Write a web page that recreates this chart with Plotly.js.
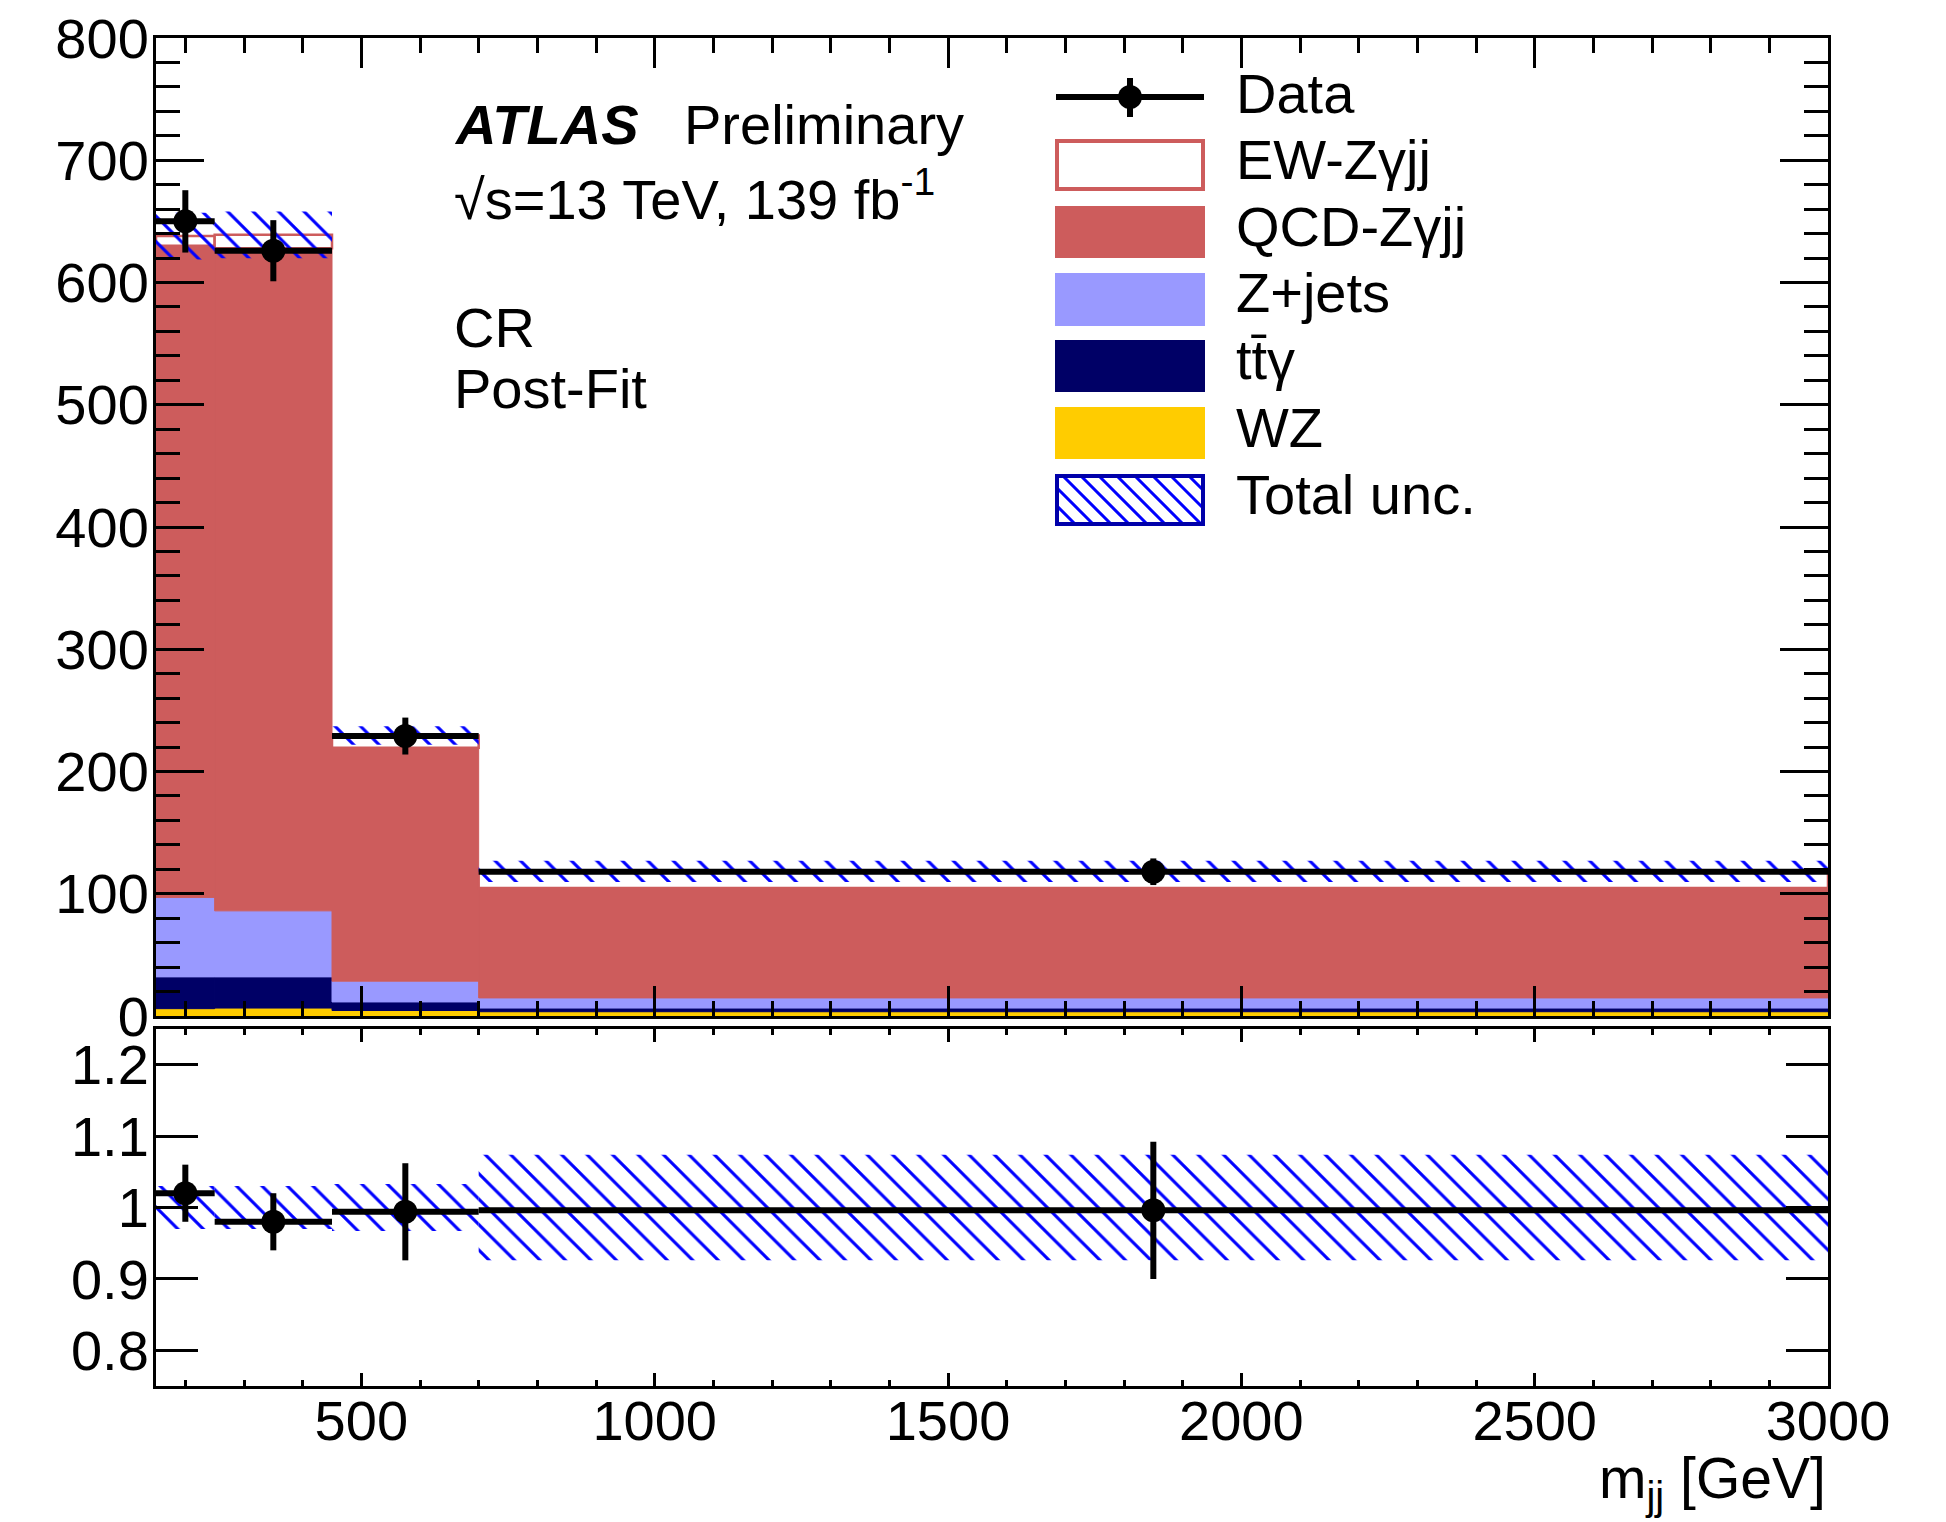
<!DOCTYPE html>
<html><head><meta charset="utf-8">
<script src="https://cdn.plot.ly/plotly-3.0.1.min.js"></script>
<style>html,body{margin:0;padding:0;background:#fff;} #chart{width:1946px;height:1522px;}</style>
</head><body><div id="chart"></div>
<script>
// ---- data ----
const binLo = [150, 250, 450, 700];
const binHi = [250, 450, 700, 3000];
const wzVals = [6, 6.5, 4.5, 3.5];
const ttgVals = [26, 25.5, 7, 3];
const zjetsVals = [65, 54, 17, 8.3];
const qcdVals = [533, 542, 191, 90];
const ewVals = [8, 11, 10, 13.5];
const dataVals = [650, 626, 229, 118];
const dataErr = [25.5, 25, 15.1, 10.9];
const relUnc = [0.03, 0.03, 0.033, 0.074];
const ratioVals = [1.02, 0.98, 0.994, 0.996];
const ratioErr = [0.04, 0.04, 0.068, 0.096];
const ratioTickVals = [0.8, 0.9, 1, 1.1, 1.2];
const ratioTickText = ['0.8', '0.9', '1', '1.1', '1.2'];
const legendLabels = ['Data', 'EW-Z\u03b3jj', 'QCD-Z\u03b3jj', 'Z+jets', 't\u0074\u0304\u03b3', 'WZ', 'Total unc.'];

// ---- derived ----
const centers = binLo.map((lo, i) => (lo + binHi[i]) / 2);
const widths = binLo.map((lo, i) => binHi[i] - lo);
const halfW = widths.map(w => w / 2);

const C_QCD = '#cd5c5c', C_ZJ = '#9999ff', C_TTG = '#000066', C_WZ = '#ffcc00', C_HATCH = '#0000ff';
const stackDefs = [
  {vals: wzVals, color: C_WZ},
  {vals: ttgVals, color: C_TTG},
  {vals: zjetsVals, color: C_ZJ},
  {vals: qcdVals, color: C_QCD},
  {vals: ewVals, color: '#ffffff', line: C_QCD}
];
const traces = [];
let cum = binLo.map(() => 0);
stackDefs.forEach(s => {
  traces.push({
    type: 'bar', x: centers, y: s.vals, base: cum.slice(), width: widths,
    xaxis: 'x', yaxis: 'y', hoverinfo: 'skip', showlegend: false,
    marker: {color: s.color, line: {width: s.line ? 2.5 : 1, color: s.line || s.color}}
  });
  cum = cum.map((c, i) => c + s.vals[i]);
});
const totals = cum;
const hatchPattern = {shape: '\\', fgcolor: C_HATCH, fgopacity: 1, bgcolor: 'rgba(0,0,0,0)', size: 18, solidity: 0.17, fillmode: 'overlay'};
traces.push({
  type: 'bar', x: centers, y: totals.map((t, i) => 2 * t * relUnc[i]), base: totals.map((t, i) => t * (1 - relUnc[i])),
  width: widths, xaxis: 'x', yaxis: 'y', hoverinfo: 'skip', showlegend: false,
  marker: {color: 'rgba(0,0,0,0)', line: {width: 0}, pattern: hatchPattern}
});
traces.push({
  type: 'scatter', mode: 'markers', x: centers, y: dataVals, xaxis: 'x', yaxis: 'y', showlegend: false,
  marker: {size: 24, color: 'black'},
  error_x: {type: 'data', array: halfW, thickness: 6, width: 0, color: 'black'},
  error_y: {type: 'data', array: dataErr, thickness: 6, width: 0, color: 'black'}
});
traces.push({
  type: 'bar', x: centers, y: relUnc.map(u => 2 * u), base: relUnc.map(u => 1 - u),
  width: widths, xaxis: 'x2', yaxis: 'y2', hoverinfo: 'skip', showlegend: false,
  marker: {color: 'rgba(0,0,0,0)', line: {width: 0}, pattern: hatchPattern}
});
traces.push({
  type: 'scatter', mode: 'markers', x: centers, y: ratioVals, xaxis: 'x2', yaxis: 'y2', showlegend: false,
  marker: {size: 24, color: 'black'},
  error_x: {type: 'data', array: halfW, thickness: 6, width: 0, color: 'black'},
  error_y: {type: 'data', array: ratioErr, thickness: 6, width: 0, color: 'black'}
});

// ---- layout helpers (pixel -> paper) ----
const L = 156, R = 1828, T = 38, B = 1386;
const px = v => (v - L) / (R - L);
const py = v => (B - v) / (B - T);
const FONT = 'Liberation Sans, Arial, Helvetica, sans-serif';

const annotations = [];
function txt(text, x, y, size, xanchor) {
  annotations.push({text: text, x: px(x), y: py(y), xref: 'paper', yref: 'paper', xanchor: xanchor || 'left', yanchor: 'middle',
    showarrow: false, font: {family: FONT, size: size || 56, color: 'black'}});
}
txt('<b><i>ATLAS</i></b>', 452, 125);
txt('Preliminary', 682, 125);
txt('\u221as=13 TeV, 139 fb<sup>-1</sup>', 452, 195);
txt('CR', 452, 327);
txt('Post-Fit', 452, 389);
const legTextY = [94, 160, 226, 293, 360, 427, 494];
legendLabels.forEach((lab, i) => txt(lab, 1234, legTextY[i]));
annotations.push({text: 'm<sub>jj</sub> [GeV]', x: 1, y: py(1444), xref: 'paper', yref: 'paper', xanchor: 'right', yanchor: 'top',
  showarrow: false, font: {family: FONT, size: 57, color: 'black'}});

const shapes = [];
function rect(x0, y0, x1, y1, fill, lineColor, lw) {
  shapes.push({type: 'rect', xref: 'paper', yref: 'paper', x0: px(x0), x1: px(x1), y0: py(y1), y1: py(y0),
    fillcolor: fill, line: {color: lineColor || fill, width: lw || 0}});
}
// data legend symbol
shapes.push({type: 'line', xref: 'paper', yref: 'paper', x0: px(1056), x1: px(1204), y0: py(97), y1: py(97), line: {color: 'black', width: 6}});
shapes.push({type: 'line', xref: 'paper', yref: 'paper', x0: px(1130), x1: px(1130), y0: py(78), y1: py(117), line: {color: 'black', width: 6}});
shapes.push({type: 'circle', xref: 'paper', yref: 'paper', x0: px(1118), x1: px(1142), y0: py(109), y1: py(85), fillcolor: 'black', line: {width: 0}});
rect(1057, 141, 1203, 189, '#ffffff', C_QCD, 4);
rect(1055, 206, 1205, 258, C_QCD);
rect(1055, 273, 1205, 326, C_ZJ);
rect(1055, 340, 1205, 392, C_TTG);
rect(1055, 407, 1205, 459, C_WZ);
// hatched legend box
(function () {
  const x0 = 1057, x1 = 1203, y0 = 476, y1 = 524;
  let path = '';
  for (let c = x0 - y1; c <= x1 - y0; c += 18) {
    const ax = Math.max(x0, c + y0), bx = Math.min(x1, c + y1);
    if (bx <= ax) continue;
    path += 'M' + px(ax) + ',' + py(ax - c) + 'L' + px(bx) + ',' + py(bx - c);
  }
  shapes.push({type: 'path', xref: 'paper', yref: 'paper', path: path, line: {color: C_HATCH, width: 3}});
  rect(x0, y0, x1, y1, 'rgba(0,0,0,0)', '#0000aa', 4);
})();

const axCommon = {showline: true, linecolor: 'black', linewidth: 3, mirror: 'allticks', ticks: 'inside', tickcolor: 'black',
  tickwidth: 3, showgrid: false, zeroline: false, fixedrange: true, tickfont: {family: FONT, size: 56, color: 'black'}};
const mainBottom = py(1016), ratioTop = py(1029);

const layout = {
  width: 1946, height: 1522, margin: {l: L, r: 1946 - R, t: T, b: 1522 - B},
  paper_bgcolor: '#ffffff', plot_bgcolor: 'rgba(0,0,0,0)', barmode: 'overlay', showlegend: false,
  font: {family: FONT, size: 56, color: 'black'},
  xaxis: Object.assign({}, axCommon, {domain: [0, 1], anchor: 'y', range: [150, 3000], tickmode: 'linear', tick0: 0, dtick: 500,
    ticklen: 30, showticklabels: false,
    minor: {ticks: 'inside', tickmode: 'linear', tick0: 0, dtick: 100, ticklen: 15, tickwidth: 3, tickcolor: 'black', showgrid: false}}),
  yaxis: Object.assign({}, axCommon, {domain: [mainBottom, 1], anchor: 'x', range: [0, 800], tickmode: 'linear', tick0: 0, dtick: 100,
    ticklen: 48, ticklabelstandoff: -7,
    minor: {ticks: 'inside', tickmode: 'linear', tick0: 0, dtick: 20, ticklen: 24, tickwidth: 3, tickcolor: 'black', showgrid: false}}),
  xaxis2: Object.assign({}, axCommon, {domain: [0, 1], anchor: 'y2', range: [150, 3000], tickmode: 'linear', tick0: 0, dtick: 500,
    ticklen: 13, showticklabels: true, ticklabelstandoff: -16,
    minor: {ticks: 'inside', tickmode: 'linear', tick0: 0, dtick: 100, ticklen: 6, tickwidth: 3, tickcolor: 'black', showgrid: false}}),
  yaxis2: Object.assign({}, axCommon, {domain: [0, ratioTop], anchor: 'x2', range: [0.75, 1.25], tickmode: 'array',
    tickvals: ratioTickVals, ticktext: ratioTickText, ticklen: 42, ticklabelstandoff: -7}),
  annotations: annotations,
  shapes: shapes
};

Plotly.newPlot('chart', traces, layout, {staticPlot: true, displayModeBar: false});
</script>
</body></html>
